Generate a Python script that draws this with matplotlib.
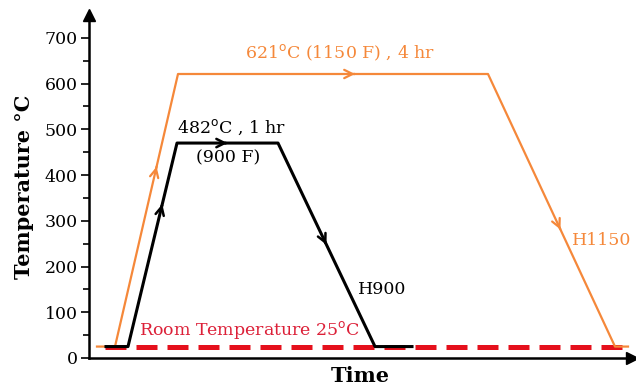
import matplotlib.pyplot as plt

# Heat treatment profiles (time in arbitrary units, temperature in deg C)
h1150_time = [8, 26, 89, 399, 526, 539]
h1150_temp = [25, 25, 621, 621, 25, 25]

h900_time = [17, 39, 88, 189, 286, 323]
h900_temp = [25, 25, 470, 470, 25, 25]

room_time = [16, 541]
room_temp = [25, 25]

y_ticks = [0, 100, 200, 300, 400, 500, 600, 700]

orange = '#f5883a'
red = '#e5101c'

fig = plt.figure(figsize=(6.36, 3.92), dpi=100)
ax = fig.add_axes([89 / 636, 1 - 358 / 392, 543 / 636, 343 / 392])

# Room temperature line
ax.plot(room_time, room_temp, color=red, lw=3.6, dashes=(4.2, 2), zorder=1)

# Profiles
ax.plot(h1150_time, h1150_temp, color=orange, lw=1.6, zorder=2)
ax.plot(h900_time, h900_temp, color='black', lw=2.2, zorder=3)


def arrow_on(times, temps, seg, frac, color, lw):
    # small open arrowhead placed along one segment of a profile
    x0, x1 = times[seg], times[seg + 1]
    y0, y1 = temps[seg], temps[seg + 1]
    xa = x0 + (x1 - x0) * frac
    ya = y0 + (y1 - y0) * frac
    xb = x0 + (x1 - x0) * (frac - 0.02)
    yb = y0 + (y1 - y0) * (frac - 0.02)
    ax.annotate('', xy=(xa, ya), xytext=(xb, yb),
                arrowprops=dict(arrowstyle='->,head_length=0.6,head_width=0.3',
                                color=color, lw=lw), zorder=4)


arrow_on(h1150_time, h1150_temp, 1, 0.67, orange, 1.6)
arrow_on(h1150_time, h1150_temp, 2, 0.58, orange, 1.6)
arrow_on(h1150_time, h1150_temp, 3, 0.58, orange, 1.6)
arrow_on(h900_time, h900_temp, 1, 0.7, 'black', 1.8)
arrow_on(h900_time, h900_temp, 2, 0.5, 'black', 1.8)
arrow_on(h900_time, h900_temp, 3, 0.5, 'black', 1.8)

ax.set_xlim(0, 543)
ax.set_ylim(0, 750)
ax.set_yticks(y_ticks)
ax.set_yticks([50, 150, 250, 350, 450, 550, 650], minor=True)
ax.set_xticks([])
ax.tick_params(axis='y', which='major', length=6, width=1.2, labelsize=12.5, pad=2)
ax.tick_params(axis='y', which='minor', length=4, width=1.2)
for lab in ax.get_yticklabels():
    lab.set_family('DejaVu Serif')

for s in ['top', 'right']:
    ax.spines[s].set_visible(False)
ax.spines['left'].set_linewidth(1.8)
ax.spines['bottom'].set_linewidth(1.8)
ax.plot(0, 1, '^k', ms=8, transform=ax.transAxes, clip_on=False)
ax.plot(1, 0, '>k', ms=8, transform=ax.transAxes, clip_on=False)

ax.set_ylabel('Temperature \u00b0C', family='DejaVu Serif', fontweight='bold',
              fontsize=15, labelpad=8)
ax.set_xlabel('Time', family='DejaVu Serif', fontweight='bold', fontsize=15,
              labelpad=6)

serif = 'DejaVu Serif'
ax.text(251, 668, '621$^{\\rm o}$C (1150 F) , 4 hr', color=orange, family=serif,
        fontsize=12.5, ha='center', va='center')
ax.text(143, 504, '482$^{\\rm o}$C , 1 hr', color='black', family=serif,
        fontsize=12.5, ha='center', va='center')
ax.text(139, 438, '(900 F)', color='black', family=serif,
        fontsize=12.5, ha='center', va='center')
ax.text(269, 150, 'H900', color='black', family=serif, fontsize=12.5,
        ha='left', va='center')
ax.text(483, 257, 'H1150', color=orange, family=serif, fontsize=12.5,
        ha='left', va='center')
ax.text(50, 61, 'Room Temperature 25$^{\\rm o}$C', color='#dc2038', family=serif,
        fontsize=12.5, ha='left', va='center')

plt.savefig('out.png', dpi=100)
